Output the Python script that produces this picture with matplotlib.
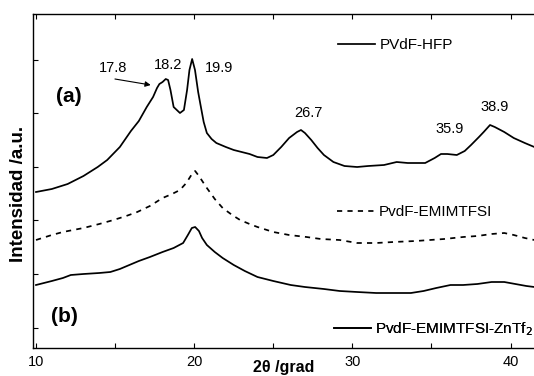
import matplotlib
matplotlib.use("Agg")
import matplotlib.pyplot as plt

plt.rcParams['font.family'] = ['Liberation Sans', 'DejaVu Sans']

# ---- data ----
x_hfp = [10.0, 11.0, 12.0, 13.0, 13.9, 14.5, 15.3, 16.0, 16.5, 17.0, 17.4, 17.65, 17.8, 18.0,
         18.2, 18.35, 18.5, 18.7, 19.1, 19.35, 19.55, 19.7, 19.87, 20.05, 20.25, 20.4, 20.6,
         20.8, 21.1, 21.4, 22.0, 22.5, 23.5, 24.0, 24.6, 25.0, 25.5, 26.0, 26.5, 26.75, 27.0,
         27.4, 27.8, 28.2, 28.8, 29.5, 30.3, 31.0, 32.0, 32.8, 33.5, 34.6, 35.2, 35.6, 36.0,
         36.6, 37.1, 37.5, 38.0, 38.3, 38.7, 39.0, 39.6, 40.2, 40.9, 41.5]
y_hfp = [156, 159, 164, 172, 181, 188, 201, 217, 227, 241, 251, 260, 264, 266,
         269, 268, 258, 241, 235, 238, 258, 278, 289, 278, 256, 243, 226,
         215, 209, 205, 201, 198, 194, 191, 190, 193, 201, 210, 216, 218, 215,
         208, 200, 193, 186, 182, 181, 182, 183, 186, 185, 185, 190, 194, 194,
         193, 197, 203, 211, 216, 223, 221, 216, 210, 205, 201]

x_il = [10.0, 11.0, 11.7, 13.0, 14.0, 14.9, 15.7, 16.4, 17.2, 18.0, 18.6, 19.1, 19.5, 19.9,
        20.06, 20.3, 20.8, 21.3, 21.8, 22.4, 22.9, 23.5, 24.0, 25.0, 26.0, 27.1, 28.0, 29.2,
        30.3, 31.5, 32.6, 34.0, 35.8, 37.0, 37.9, 38.8, 39.6, 40.2, 40.9, 41.5]
y_il = [108, 113, 116, 120, 124, 128, 132, 136, 142, 150, 154, 158, 165, 175,
        177, 172, 160, 149, 140, 133, 128, 124, 121, 116, 113, 111, 109, 108,
        105, 105, 106, 107, 109, 111, 112, 114, 115, 113, 110, 108]

x_zn = [10.0, 11.0, 11.7, 12.2, 13.0, 14.0, 14.7, 15.3, 15.9, 16.5, 17.2, 18.0, 18.7, 19.3,
        19.6, 19.85, 20.06, 20.3, 20.5, 20.8, 21.3, 21.8, 22.5, 23.2, 24.0, 25.0, 26.1, 27.0,
        28.2, 29.2, 30.3, 31.5, 32.5, 33.7, 34.5, 35.3, 36.2, 37.0, 37.9, 38.8, 39.6, 40.3,
        41.0, 41.5]
y_zn = [63, 67, 70, 73, 74, 75, 76, 79, 83, 87, 91, 96, 100, 105,
        113, 120, 121, 117, 110, 103, 96, 90, 83, 77, 71, 67, 63, 61,
        59, 57, 56, 55, 55, 55, 57, 60, 63, 63, 64, 66, 66, 64,
        62, 61]

peak_labels = ['17.8', '18.2', '19.9', '26.7', '35.9', '38.9']
peak_label_x = [14.85, 18.34, 21.6, 27.19, 36.17, 39.0]
peak_label_y = [280, 283, 280, 235, 219, 241]

series_names = ['PVdF-HFP', 'PvdF-EMIMTFSI', 'PvdF-EMIMTFSI-ZnTf$_2$']
x_major = [10, 20, 30, 40]
x_minor = [15, 25, 35]
y_ticks = [20, 74, 128, 181, 235, 288]

# ---- figure ----
W, H = 534, 376
fig = plt.figure(figsize=(W / 100, H / 100), dpi=100)
ax_l, ax_r, ax_t, ax_b = 33, 534, 14, 348
ax = fig.add_axes([ax_l / W, 1 - ax_b / H, (ax_r - ax_l) / W, (ax_b - ax_t) / H])

lw = 1.25
l1, = ax.plot(x_hfp, y_hfp, color='black', lw=lw)
l2, = ax.plot(x_il, y_il, color='black', lw=lw, ls=(0, (3, 3)))
l3, = ax.plot(x_zn, y_zn, color='black', lw=lw)

ax.set_xlim(9.81, 41.48)
ax.set_ylim(0, 334)

ax.set_xticks(x_major)
ax.set_xticks(x_minor, minor=True)
ax.set_yticks(y_ticks)
ax.set_yticklabels([])
ax.tick_params(axis='both', which='both', direction='in', length=3.5, width=0.8,
               top=True, right=False, labelsize=10.5, pad=5)
for s in ['left', 'bottom', 'top']:
    ax.spines[s].set_linewidth(1.0)
ax.spines['right'].set_visible(False)

ax.set_xlabel('2θ /grad', fontsize=11.5, fontweight='bold')
ax.xaxis.set_label_coords(0.5, -0.035)
ax.set_ylabel('Intensidad /a.u.', fontsize=13.5, fontweight='bold')
ax.yaxis.set_label_coords(-0.012, 0.46)

for t, xx, yy in zip(peak_labels, peak_label_x, peak_label_y):
    ax.text(xx, yy, t, fontsize=10.5, ha='center', va='center')

ax.annotate('', xy=(17.25, 263), xytext=(14.99, 269),
            arrowprops=dict(arrowstyle='-|>', color='black', lw=0.8,
                            mutation_scale=8, shrinkA=0, shrinkB=0))

ax.text(12.05, 251, '(a)', fontsize=15, fontweight='bold', ha='center', va='center')
ax.text(11.77, 31, '(b)', fontsize=15, fontweight='bold', ha='center', va='center')

# legends (three separate entries, placed as in the reference)
anchors = [(0.609, 0.907), (0.607, 0.407), (0.601, 0.057)]
handles = [l1, l2, l3]
for h, name, anc in zip(handles, series_names, anchors):
    leg = ax.legend(handles=[h], labels=[name], loc='center left', bbox_to_anchor=anc,
                    frameon=False, fontsize=11, handlelength=2.4, handletextpad=0.3,
                    borderpad=0, borderaxespad=0)
    ax.add_artist(leg)

fig.savefig('out.png', dpi=100)
